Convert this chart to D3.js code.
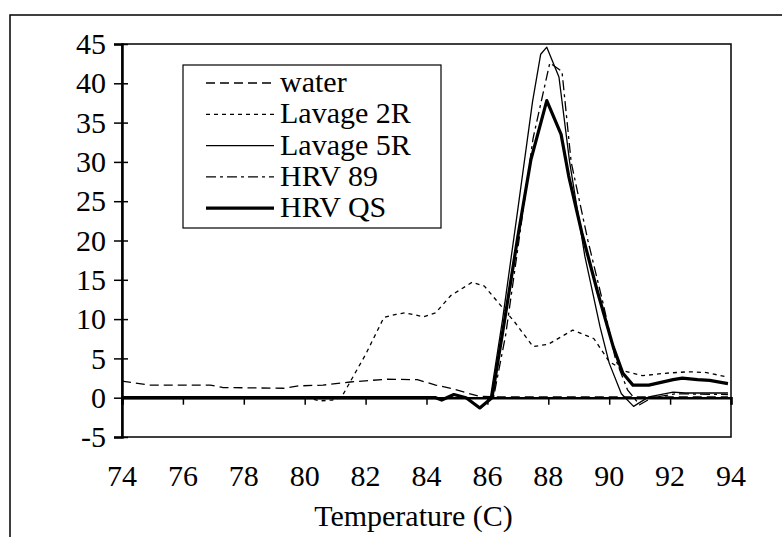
<!DOCTYPE html>
<html>
<head>
<meta charset="utf-8">
<script src="https://cdn.jsdelivr.net/npm/d3@7"></script>
<style>
  body { margin: 0; background: #fff; }
</style>
</head>
<body>
<div id="chart"></div>
<script>
// Data: [temperature, value]
const water = [[74, 2.1], [74.9, 1.6], [76.9, 1.6], [77.3, 1.3], [79.3, 1.2], [79.8, 1.5], [80.6, 1.6],
    [81.5, 2.0], [82.7, 2.35], [83.7, 2.3], [84.3, 1.6], [84.8, 1.2], [85.7, 0.2], [86.4, 0.1],
    [88, 0.1], [90, 0.1], [92, 0.1], [93.9, 0.1]];
const lavage2R = [[74, 0], [80.1, 0], [80.5, -0.4], [80.9, -0.3], [81.2, 0], [82.0, 5.5], [82.6, 10.2],
    [83.0, 10.6], [83.3, 10.8], [83.9, 10.3], [84.3, 10.8], [84.8, 13.0], [85.5, 14.7], [85.9, 14.2],
    [86.4, 11.9], [86.9, 9.6], [87.5, 6.5], [88.0, 6.8], [88.8, 8.6], [89.5, 7.5], [90.0, 4.6],
    [90.5, 3.4], [91.1, 2.8], [91.8, 3.1], [92.6, 3.3], [93.2, 3.2], [93.9, 2.6]];
const lavage5R = [[74, 0], [86.1, 0], [86.5, 10], [87.0, 24], [87.48, 37.6], [87.75, 43.7], [87.95, 44.6],
    [88.35, 40.8], [88.7, 30], [89.2, 18], [89.7, 9], [90.0, 4.4], [90.4, 0.5], [90.8, -1.1],
    [91.3, 0.1], [92.1, 0.7], [92.5, 0.6], [93.9, 0.6]];
const hrv89 = [[74, 0], [86.2, 0], [86.6, 8], [87.0, 19], [87.5, 33], [88.05, 42.6], [88.45, 41.5],
    [88.75, 30], [89.3, 20], [89.8, 12], [90.2, 5], [90.6, 1], [91.0, -0.9], [91.4, 0], [92.2, 0.5],
    [93.9, 0.4]];
const hrvQS = [[74, 0], [84.3, 0], [84.5, -0.3], [84.9, 0.4], [85.3, 0], [85.75, -1.3], [86.15, 0],
    [86.55, 9.5], [87.0, 20.5], [87.43, 30.3], [87.95, 37.8], [88.42, 33.5], [88.67, 28.2], [89.1, 21],
    [89.6, 13.7], [90.13, 6.5], [90.45, 3.1], [90.78, 1.6], [91.3, 1.6], [92.1, 2.3], [92.4, 2.5],
    [92.9, 2.3], [93.3, 2.2], [93.9, 1.8]];

const seriesNames = ["water", "Lavage 2R", "Lavage 5R", "HRV 89", "HRV QS"];
const xTicks = [74, 76, 78, 80, 82, 84, 86, 88, 90, 92, 94];
const yTicks = [-5, 0, 5, 10, 15, 20, 25, 30, 35, 40, 45];

// Layout
const width = 782, height = 537;
const plot = { left: 122, right: 731, top: 44, bottom: 437 };
const font = "'Liberation Serif', 'Times New Roman', serif";
const fontSize = "30px";

const svg = d3.select("#chart")
    .append("svg")
    .attr("width", width)
    .attr("height", height);

// outer frame (only top and left edges visible)
svg.append("rect")
    .attr("x", 10)
    .attr("y", 15)
    .attr("width", 900)
    .attr("height", 700)
    .attr("fill", "none")
    .attr("stroke", "#000")
    .attr("stroke-width", 1.5)

const x = d3.scaleLinear().domain([74, 94]).range([plot.left, plot.right]);
const y = d3.scaleLinear().domain([-5, 45]).range([plot.bottom, plot.top]);

// plot area border
svg.append("rect")
    .attr("x", plot.left)
    .attr("y", plot.top)
    .attr("width", plot.right - plot.left)
    .attr("height", plot.bottom - plot.top)
    .attr("fill", "none")
    .attr("stroke", "#000")
    .attr("stroke-width", 1.5)

// y axis (plain hyphen for negatives, like the original)
const yAxis = svg.append("g")
    .attr("transform", `translate(${plot.left},0)`)
    .call(d3.axisLeft(y).tickValues(yTicks).tickSize(8).tickPadding(8).tickFormat(d => String(d)));
yAxis.select(".domain").attr("stroke-width", 2.5);
yAxis.selectAll(".tick line").attr("stroke-width", 1.5).attr("x2", 6).attr("x1", -8);
yAxis.selectAll("text")
    .style("font-family", font)
    .style("font-size", fontSize)
    .attr("fill", "#000");

// series styles
const lines = [
    { data: water, dash: "9,5", w: 1.3 },
    { data: lavage2R, dash: "4,4", w: 1.3 },
    { data: lavage5R, dash: null, w: 1.3 },
    { data: hrv89, dash: "10,4,3,4", w: 1.3 },
    { data: hrvQS, dash: null, w: 3.2 }
];

const line = d3.line().x(d => x(d[0])).y(d => y(d[1]));

// x axis at y = 0, ticks down
const xAxis = svg.append("g")
    .attr("transform", `translate(0,${y(0)})`)
    .call(d3.axisBottom(x).tickValues(xTicks).tickSize(7).tickFormat(""));
xAxis.select(".domain").attr("stroke-width", 2.5);
xAxis.selectAll(".tick line").attr("stroke-width", 1.5);

lines.forEach(s => {
    svg.append("path")
        .datum(s.data)
        .attr("d", line)
        .attr("fill", "none")
        .attr("stroke", "#000")
        .attr("stroke-width", s.w)
        .attr("stroke-dasharray", s.dash)
        .attr("stroke-linejoin", "round")
});

// x tick labels at the bottom of the plot
svg.append("g")
    .selectAll("text")
    .data(xTicks)
    .join("text")
    .attr("x", d => x(d))
    .attr("y", 486)
    .attr("text-anchor", "middle")
    .style("font-family", font)
    .style("font-size", fontSize)
    .text(d => d)

svg.append("text")
    .attr("x", (plot.left + plot.right) / 2 - 13)
    .attr("y", 526)
    .attr("text-anchor", "middle")
    .style("font-family", font)
    .style("font-size", fontSize)
    .text("Temperature (C)")

// LEGEND
const legend = svg.append("g");
legend.append("rect")
    .attr("x", 183)
    .attr("y", 65)
    .attr("width", 258)
    .attr("height", 163)
    .attr("fill", "#fff")
    .attr("stroke", "#000")
    .attr("stroke-width", 1.2)

seriesNames.forEach((name, i) => {
    const ly = 83 + i * 31.3;
    legend.append("line")
        .attr("x1", 206)
        .attr("x2", 274)
        .attr("y1", ly)
        .attr("y2", ly)
        .attr("stroke", "#000")
        .attr("stroke-width", lines[i].w)
        .attr("stroke-dasharray", lines[i].dash)
    legend.append("text")
        .attr("x", 280)
        .attr("y", ly + 9)
        .style("font-family", font)
        .style("font-size", fontSize)
        .text(name)
});
</script>
</body>
</html>
